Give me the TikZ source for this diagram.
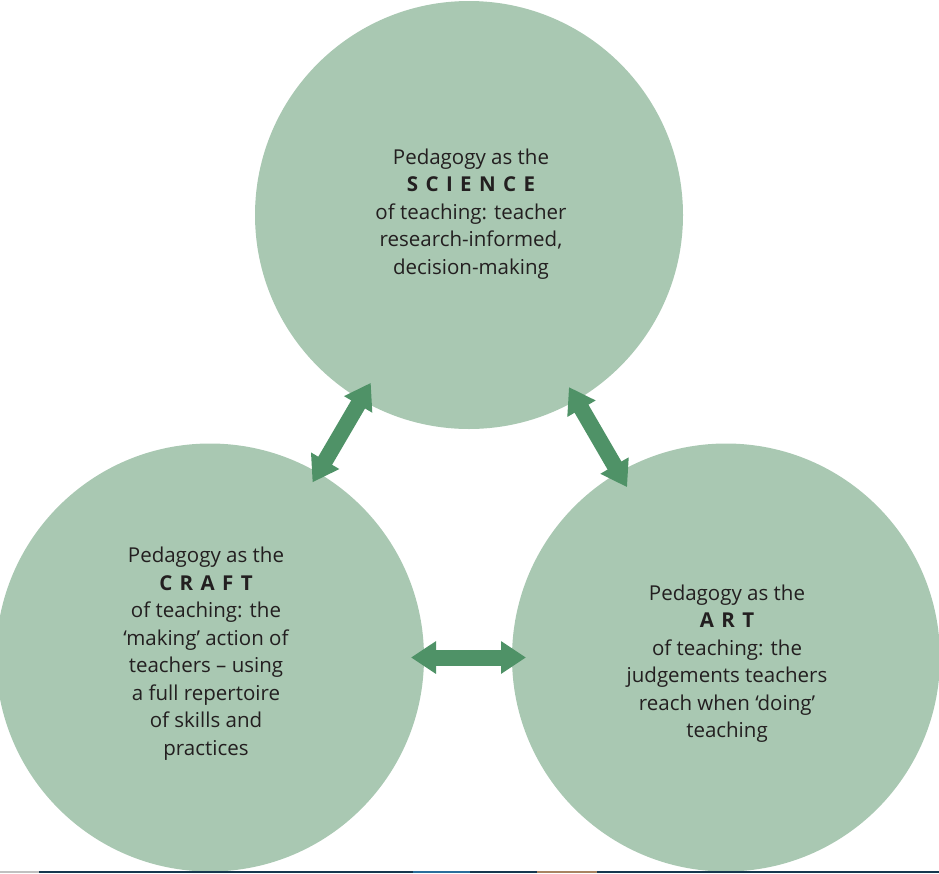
\documentclass[tikz,border=0pt]{standalone}
\usepackage{fontspec}
\setmainfont{Open Sans}
\usetikzlibrary{arrows.meta}
\definecolor{circfill}{HTML}{A9C8B2}
\definecolor{arrgreen}{HTML}{4F9267}
\definecolor{txt}{HTML}{231F20}
\definecolor{stripnavy}{HTML}{16384F}
\definecolor{stripblue}{HTML}{2B6E9C}
\definecolor{stripbrown}{HTML}{A88462}
\definecolor{stripgray}{HTML}{C0C0C0}
\tikzset{
  bigcircle/.style={circle, fill=circfill, draw=none, minimum size=428pt, inner sep=0pt},
  circtext/.style={align=center, text=txt, font=\fontsize{20.5}{27.5}\selectfont, inner sep=0pt},
  dblarrow/.style={draw=arrgreen, line width=16pt,
    {Triangle[length=25pt,width=31pt]}-{Triangle[length=25pt,width=31pt]}},
}
\newcommand{\spacedbold}[1]{{\bfseries\addfontfeature{LetterSpace=36}#1}}
\begin{document}
\begin{tikzpicture}[x=1pt,y=-1pt]
\useasboundingbox (0,0) rectangle (939,873);
% circles
\node[bigcircle] (sci) at (469,215) {};
\node[bigcircle] (craft) at (210,657.5) {};
\node[bigcircle] (art) at (726,657.5) {};
% texts
\node[circtext] (scitext) at (471,214) {Pedagogy as the\\\spacedbold{SCIENCE}\\of teaching: teacher\\research-informed,\\decision-making};
\node[circtext] (crafttext) at (206,653.5) {Pedagogy as the\\\spacedbold{CRAFT}\\of teaching: the\\‘making’ action of\\teachers – using\\a full repertoire\\of skills and\\practices};
\node[circtext] (arttext) at (727,663.5) {Pedagogy as the\\\spacedbold{ART}\\of teaching: the\\judgements teachers\\reach when ‘doing’\\teaching};
% arrows
\draw[dblarrow, shorten <=194.5pt, shorten >=203pt] (sci.center) -- (craft.center);
\draw[dblarrow, shorten <=199pt, shorten >=197pt] (sci.center) -- (art.center);
\draw[dblarrow, shorten <=201pt, shorten >=200pt] (craft.center) -- (art.center);
% bottom strip
\fill[stripgray] (0,871) rectangle (39,873);
\fill[stripnavy] (39,871) rectangle (939,873);
\fill[stripblue] (413,871) rectangle (470,873);
\fill[stripbrown] (537,871) rectangle (597,873);
\end{tikzpicture}
\end{document}
